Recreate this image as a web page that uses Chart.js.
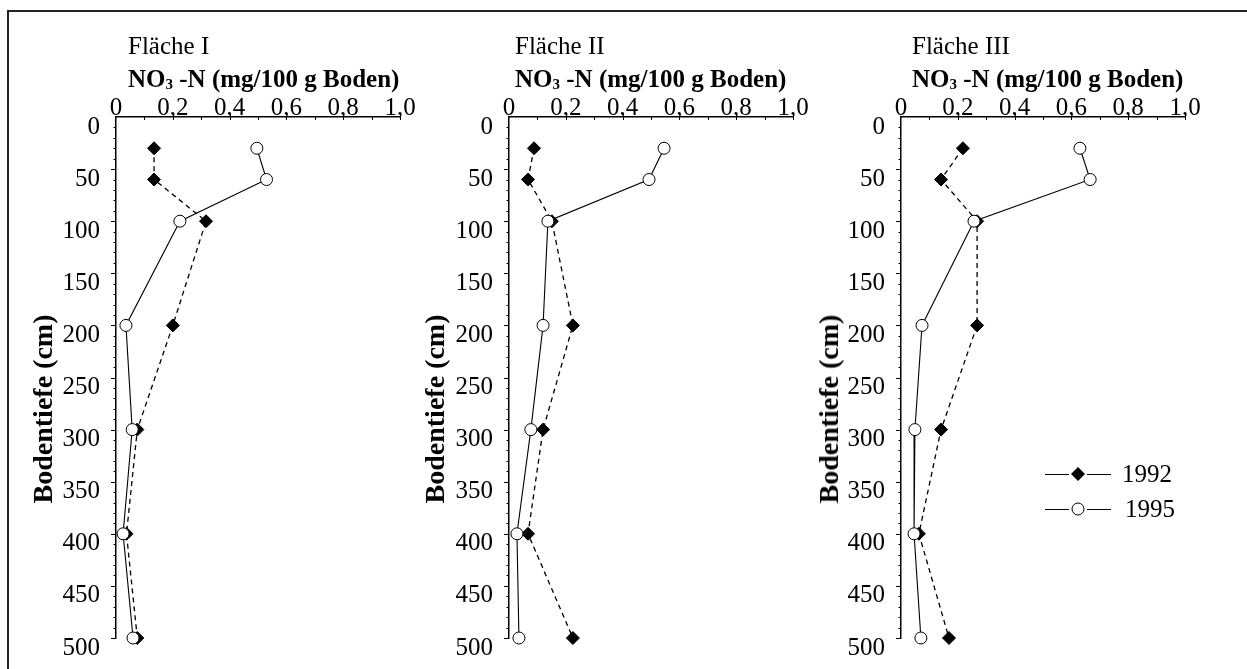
<!DOCTYPE html>
<html>
<head>
<meta charset="utf-8">
<script src="https://cdn.jsdelivr.net/npm/chart.js@4"></script>
<style>
  body { margin: 0; background: #fff; }
  #wrap { position: relative; width: 1247px; height: 669px; overflow: hidden; font-family: 'Liberation Serif', 'Times New Roman', serif; color: #000; }
  canvas { position: absolute; left: 0; top: 0; }
  .frame-top { position: absolute; left: 8px; top: 10px; width: 1239px; height: 2px; background: #222; }
  .frame-left { position: absolute; left: 7px; top: 10px; width: 2px; height: 659px; background: #222; }
  .ttl { position: absolute; font-size: 25px; line-height: 25px; white-space: nowrap; }
  .xt { position: absolute; font-size: 25px; line-height: 25px; font-weight: bold; white-space: nowrap; }
  .xt sub { font-size: 15px; vertical-align: -2px; line-height: 0; }
  .yt { position: absolute; font-size: 28px; font-weight: bold; white-space: nowrap; transform: translate(-50%, -50%) rotate(-90deg); }
  .leg { position: absolute; left: 1043px; height: 24px; display: flex; align-items: center; font-size: 25px; }
  .leg svg { margin-right: 9px; }
</style>
</head>
<body>
<div id="wrap">
  <div class="frame-top"></div>
  <div class="frame-left"></div>
</div>
<script>
// Bodentiefe (cm)
const depths = [30, 60, 100, 200, 300, 400, 500];
const panelNames = ['Fläche I', 'Fläche II', 'Fläche III'];
const years = ['1992', '1995'];
// NO3-N (mg/100 g Boden)
const f1_1992 = [0.134, 0.134, 0.317, 0.20, 0.075, 0.037, 0.075];
const f1_1995 = [0.496, 0.53, 0.225, 0.035, 0.057, 0.025, 0.06];
const f2_1992 = [0.088, 0.067, 0.151, 0.225, 0.12, 0.067, 0.225];
const f2_1995 = [0.546, 0.493, 0.137, 0.12, 0.077, 0.028, 0.035];
const f3_1992 = [0.218, 0.141, 0.268, 0.268, 0.141, 0.063, 0.169];
const f3_1995 = [0.63, 0.666, 0.257, 0.074, 0.049, 0.046, 0.07];
const xTicks = [0, 0.2, 0.4, 0.6, 0.8, 1.0];
const yTicks = [0, 50, 100, 150, 200, 250, 300, 350, 400, 450, 500];

const series = [[f1_1992, f1_1995], [f2_1992, f2_1995], [f3_1992, f3_1995]];
const areaLeft = [116, 509, 901];
const titleLeft = [128, 515, 912];
const yTitleX = [43, 435, 829];
const W = 1247, H = 669;

const wrap = document.getElementById('wrap');

// kleine Teilstriche an beiden Achsen
const minorTicks = {
  id: 'minorTicks',
  afterDraw(chart) {
    const { ctx, scales: { x, y } } = chart;
    ctx.save();
    ctx.strokeStyle = '#000';
    ctx.lineWidth = 1;
    ctx.beginPath();
    for (let i = 1; i <= 10; i++) {
      const px = Math.round(x.getPixelForValue(i / 10)) + 0.5;
      ctx.moveTo(px, y.top);
      ctx.lineTo(px, y.top + 3);
    }
    for (let d = 10; d <= 500; d += 10) {
      const py = Math.round(y.getPixelForValue(d)) + 0.5;
      const len = d % 50 === 0 ? 5 : 2.5;
      ctx.moveTo(x.left, py);
      ctx.lineTo(x.left - len, py);
    }
    ctx.stroke();
    ctx.restore();
  }
};

const fmt = v => {
  const t = xTicks.find(k => Math.abs(k - v) < 1e-6);
  if (t === undefined) return null;
  return t === 0 ? '0' : t.toFixed(1).replace('.', ',');
};

series.forEach((s, p) => {
  const cv = document.createElement('canvas');
  cv.width = W; cv.height = H;
  wrap.appendChild(cv);

  const ttl = document.createElement('div');
  ttl.className = 'ttl';
  ttl.style.left = titleLeft[p] + 'px';
  ttl.style.top = '33px';
  ttl.textContent = panelNames[p];
  wrap.appendChild(ttl);

  const xt = document.createElement('div');
  xt.className = 'xt';
  xt.style.left = titleLeft[p] + 'px';
  xt.style.top = '66px';
  xt.innerHTML = 'NO<sub>3</sub> -N (mg/100 g Boden)';
  wrap.appendChild(xt);

  const yt = document.createElement('div');
  yt.className = 'yt';
  yt.style.left = yTitleX[p] + 'px';
  yt.style.top = '409px';
  yt.textContent = 'Bodentiefe (cm)';
  wrap.appendChild(yt);

  const left = areaLeft[p];
  new Chart(cv, {
    type: 'scatter',
    data: {
      datasets: [
        {
          label: years[0],
          data: depths.map((d, i) => ({ x: s[0][i], y: d })),
          showLine: true,
          borderColor: '#000',
          borderWidth: 1.3,
          borderDash: [5, 4],
          pointStyle: 'rectRot',
          pointRadius: 6.5,
          pointBackgroundColor: '#000',
          pointBorderColor: '#000',
          pointBorderWidth: 1,
          clip: false,
          order: 1
        },
        {
          label: years[1],
          data: depths.map((d, i) => ({ x: s[1][i], y: d })),
          showLine: true,
          borderColor: '#000',
          borderWidth: 1.1,
          pointStyle: 'circle',
          pointRadius: 6,
          pointBackgroundColor: '#fff',
          pointBorderColor: '#000',
          pointBorderWidth: 1,
          clip: false,
          order: 0
        }
      ]
    },
    options: {
      responsive: false,
      animation: false,
      devicePixelRatio: 1,
      layout: { padding: { left: left - 80, right: W - (left + 284), top: 117 - 40, bottom: H - 642 } },
      plugins: { legend: { display: false }, tooltip: { enabled: false } },
      scales: {
        x: {
          type: 'linear',
          position: 'top',
          min: 0, max: 1,
          afterBuildTicks: sc => { sc.ticks = xTicks.map(v => ({ value: v })); },
          afterFit: sc => { sc.height = 40; },
          grid: { display: false, drawTicks: false },
          border: { display: true, color: '#000', width: 1.5 },
          ticks: {
            callback: fmt,
            color: '#000',
            padding: 0,
            maxRotation: 0,
            font: { family: "'Liberation Serif', serif", size: 25, lineHeight: 0.7 }
          }
        },
        y: {
          type: 'linear',
          reverse: true,
          min: 0, max: 500,
          afterBuildTicks: sc => { sc.ticks = yTicks.map(v => ({ value: v })); },
          afterFit: sc => { sc.width = 80; },
          grid: { display: false, drawTicks: false },
          border: { display: true, color: '#000', width: 1.5 },
          ticks: {
            color: '#000',
            padding: 16,
            labelOffset: 10,
            font: { family: "'Liberation Serif', serif", size: 25 }
          }
        }
      }
    },
    plugins: [minorTicks]
  });
});

// Legende (Fläche III)
const legRows = [
  { label: years[0], top: 462, marker: '<polygon points="35,5 42,12 35,19 28,12" fill="#000"/>', textPad: 0 },
  { label: years[1], top: 497, marker: '<circle cx="35" cy="12" r="6" fill="#fff" stroke="#000" stroke-width="1"/>', textPad: 3 }
];
legRows.forEach(r => {
  const el = document.createElement('div');
  el.className = 'leg';
  el.style.top = r.top + 'px';
  el.innerHTML = '<svg width="70" height="24"><line x1="2" y1="12.5" x2="68" y2="12.5" stroke="#000" stroke-width="1.2"/>' +
    '<rect x="26" y="4" width="18" height="17" fill="#fff"/>' + r.marker + '</svg>' +
    '<span style="margin-left:' + r.textPad + 'px">' + r.label + '</span>';
  wrap.appendChild(el);
});
</script>
</body>
</html>
